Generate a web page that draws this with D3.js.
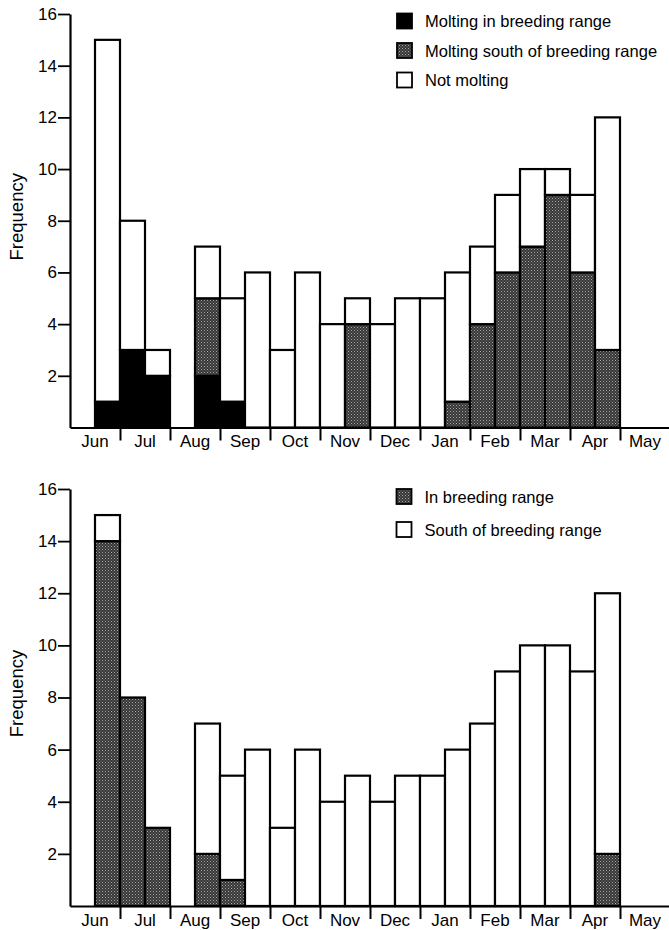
<!DOCTYPE html>
<html>
<head>
<meta charset="utf-8">
<script src="https://cdn.jsdelivr.net/npm/d3@7"></script>
<style>
  body { margin: 0; background: #fff; }
  svg { display: block; font-family: "Liberation Sans", Arial, Helvetica, sans-serif; }
</style>
</head>
<body>
<div id="chart"></div>
<script>
// month labels, each month has two half-month bins
var months = ["Jun", "Jul", "Aug", "Sep", "Oct", "Nov", "Dec", "Jan", "Feb", "Mar", "Apr", "May"];
var yTicks = [2, 4, 6, 8, 10, 12, 14, 16];

// top panel: molting status (24 half-month bins)
var moltInBreeding = [0, 1, 3, 2, 0, 2, 1, 0, 0, 0, 0, 0, 0, 0, 0, 0, 0, 0, 0, 0, 0, 0, 0, 0];
var moltSouth      = [0, 0, 0, 0, 0, 3, 0, 0, 0, 0, 0, 4, 0, 0, 0, 1, 4, 6, 7, 9, 6, 3, 0, 0];
var notMolting     = [0, 14, 5, 1, 0, 2, 4, 6, 3, 6, 4, 1, 4, 5, 5, 5, 3, 3, 3, 1, 3, 9, 0, 0];

// bottom panel: location
var inBreeding     = [0, 14, 8, 3, 0, 2, 1, 0, 0, 0, 0, 0, 0, 0, 0, 0, 0, 0, 0, 0, 0, 2, 0, 0];
var southOfRange   = [0, 1, 0, 0, 0, 5, 4, 6, 3, 6, 4, 5, 4, 5, 5, 6, 7, 9, 10, 10, 9, 10, 0, 0];

var topLegend = ["Molting in breeding range", "Molting south of breeding range", "Not molting"];
var bottomLegend = ["In breeding range", "South of breeding range"];

var W = 669, H = 930;
var svg = d3.select("#chart").append("svg")
    .attr("width", W)
    .attr("height", H);

// stippled grey fill
var pat = svg.append("defs").append("pattern")
    .attr("id", "stipple")
    .attr("width", 3).attr("height", 3)
    .attr("patternUnits", "userSpaceOnUse");
pat.append("rect").attr("width", 3).attr("height", 3).attr("fill", "#363636");
pat.append("rect").attr("x", 0).attr("y", 0).attr("width", 1).attr("height", 1).attr("fill", "#a8a8a8");
pat.append("rect").attr("x", 1.5).attr("y", 1.5).attr("width", 1).attr("height", 1).attr("fill", "#8a8a8a");

var fills = {black: "#000", grey: "url(#stipple)", white: "#fff"};

function panel(top, bottom, series, legend, legendPos) {
  var bins = d3.range(months.length * 2);
  var x = d3.scaleBand().domain(bins).range([70, 670]).paddingInner(0).paddingOuter(0);
  var xm = d3.scaleBand().domain(months).range([70, 670]);
  var xb = d3.scaleLinear().domain([0, months.length]).range([70, 670]);
  var y = d3.scaleLinear().domain([0, 16]).range([bottom, top]);

  var g = svg.append("g");

  // bars, stacked bottom-up
  bins.forEach(function(i) {
    var base = 0;
    series.forEach(function(s) {
      var v = s.values[i];
      if (v > 0) {
        g.append("rect")
            .attr("x", x(i))
            .attr("y", y(base + v))
            .attr("width", x.bandwidth())
            .attr("height", y(base) - y(base + v))
            .attr("fill", fills[s.fill])
            .attr("stroke", "#000")
            .attr("stroke-width", 2.2);
      }
      base += v;
    });
  });

  // y axis
  var ya = g.append("g")
      .attr("transform", "translate(70,0)")
      .call(d3.axisLeft(y).tickValues(yTicks).tickSize(12).tickSizeOuter(0).tickPadding(1));
  ya.select(".domain").attr("stroke-width", 2.2);
  ya.selectAll(".tick line").attr("stroke-width", 1.8);
  ya.selectAll("text").attr("font-size", 17).attr("fill", "#000").attr("font-family", "inherit");

  // x axis line + month boundary ticks
  var xa = g.append("g")
      .attr("transform", "translate(0," + bottom + ")")
      .call(d3.axisBottom(xb).tickValues(d3.range(1, months.length + 1)).tickSize(13).tickSizeOuter(0).tickFormat(""));
  xa.select(".domain").attr("stroke-width", 2.2);
  xa.selectAll(".tick line").attr("stroke-width", 2);

  // month labels
  var xl = g.append("g")
      .attr("transform", "translate(0," + bottom + ")")
      .call(d3.axisBottom(xm).tickSize(0).tickPadding(7.5));
  xl.select(".domain").remove();
  xl.selectAll("text").attr("font-size", 17).attr("fill", "#000").attr("font-family", "inherit");

  // y label
  g.append("text")
      .attr("transform", "translate(23," + ((top + bottom) / 2 - 4) + ") rotate(-90)")
      .attr("text-anchor", "middle")
      .attr("font-size", 18.5)
      .text("Frequency");

  // legend
  legend.forEach(function(l, k) {
    var ly = legendPos.y + k * legendPos.step;
    g.append("rect")
        .attr("x", legendPos.x)
        .attr("y", ly)
        .attr("width", 15)
        .attr("height", 15)
        .attr("fill", fills[l.fill])
        .attr("stroke", "#000")
        .attr("stroke-width", 1.8);
    g.append("text")
        .attr("x", legendPos.x + 28)
        .attr("y", ly + 8)
        .attr("dy", "0.35em")
        .attr("font-size", 16.5)
        .text(l.label);
  });
}

panel(14, 427.5, [
  {values: moltInBreeding, fill: "black"},
  {values: moltSouth, fill: "grey"},
  {values: notMolting, fill: "white"}
], [
  {label: topLegend[0], fill: "black"},
  {label: topLegend[1], fill: "grey"},
  {label: topLegend[2], fill: "white"}
], {x: 397, y: 13.5, step: 29.5});

panel(489, 906, [
  {values: inBreeding, fill: "grey"},
  {values: southOfRange, fill: "white"}
], [
  {label: bottomLegend[0], fill: "grey"},
  {label: bottomLegend[1], fill: "white"}
], {x: 396.5, y: 489, step: 33});
</script>
</body>
</html>
